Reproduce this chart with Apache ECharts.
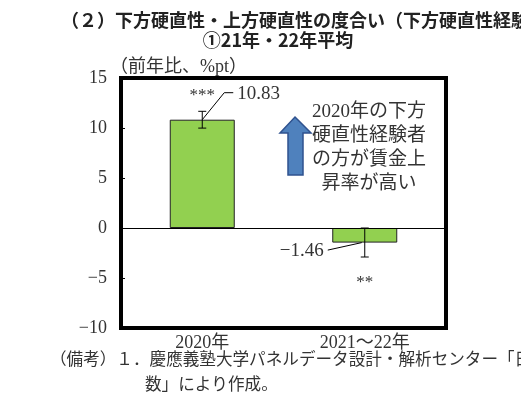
<!DOCTYPE html>
<html lang="ja">
<head>
    <meta charset="UTF-8">
    <title>下方硬直性・上方硬直性の度合い</title>
    <script src="https://cdn.jsdelivr.net/npm/echarts@6.0.0/dist/echarts.min.js"></script>
    <style>
        html, body { margin: 0; padding: 0; background: #fff; }
        #chart { width: 521px; height: 406px; }
    </style>
</head>
<body>
    <div id="chart"></div>
    <script>
        // データ
        const categories = ['2020年', '2021～22年'];
        const values = [10.83, -1.46];
        const errLow = [9.99, -2.9];
        const errHigh = [11.67, 0.0];
        const stars = ['***', '**'];
        const yMin = -10, yMax = 15, yStep = 5;

        const serif = "'Liberation Serif', 'Noto Sans CJK JP', serif";
        const cjk = "'Noto Sans CJK JP', sans-serif";
        const textColor = '#333';

        function fmtNum(v) {
            const s = String(Math.abs(v));
            return v < 0 ? '\u2212' + s : s;
        }

        const chart = echarts.init(document.getElementById('chart'));
        chart.setOption({
            animation: false,
            grid: {
                left: 121, right: 75, top: 78, bottom: 78,
                show: true, borderColor: '#000', borderWidth: 4
            },
            xAxis: {
                type: 'category',
                data: categories,
                axisLine: { show: false },
                axisTick: { show: false },
                axisLabel: { margin: 6, fontSize: 18, fontFamily: serif, color: textColor }
            },
            yAxis: {
                type: 'value',
                min: yMin, max: yMax, interval: yStep,
                splitLine: { show: false },
                axisLine: { show: false },
                axisTick: { show: true, inside: true, length: 4, lineStyle: { color: '#000', width: 1 } },
                axisLabel: { margin: 14, fontSize: 18, fontFamily: serif, color: textColor, formatter: fmtNum }
            },
            series: [
                {
                    type: 'bar',
                    data: values,
                    barWidth: 65,
                    itemStyle: { color: '#92D050', borderColor: '#222', borderWidth: 1 },
                    markLine: {
                        silent: true,
                        symbol: 'none',
                        label: { show: false },
                        lineStyle: { color: '#000', width: 1, type: 'solid' },
                        data: [{ yAxis: 0 }]
                    }
                },
                {
                    // 誤差棒
                    type: 'custom',
                    data: categories.map((c, i) => [i, errLow[i], errHigh[i]]),
                    renderItem: function (params, api) {
                        const lo = api.coord([api.value(0), api.value(1)]);
                        const hi = api.coord([api.value(0), api.value(2)]);
                        const hw = 4;
                        const st = { stroke: '#000', lineWidth: 1 };
                        return {
                            type: 'group',
                            children: [
                                { type: 'line', shape: { x1: lo[0], y1: lo[1], x2: hi[0], y2: hi[1] }, style: st },
                                { type: 'line', shape: { x1: lo[0] - hw, y1: lo[1], x2: lo[0] + hw, y2: lo[1] }, style: st },
                                { type: 'line', shape: { x1: hi[0] - hw, y1: hi[1], x2: hi[0] + hw, y2: hi[1] }, style: st }
                            ]
                        };
                    },
                    z: 3
                },
                {
                    // 数値ラベル・有意性
                    type: 'custom',
                    data: categories.map((c, i) => [i, values[i]]),
                    renderItem: function (params, api) {
                        const i = api.value(0);
                        const v = api.value(1);
                        const p = api.coord([i, v]);
                        const st = { stroke: '#000', lineWidth: 1 };
                        const font = { fontSize: 19, fontFamily: serif, fill: textColor };
                        if (v >= 0) {
                            return {
                                type: 'group',
                                children: [
                                    { type: 'polyline', shape: { points: [p, [p[0] + 22, p[1] - 27], [p[0] + 31, p[1] - 27]] }, style: Object.assign({ fill: null }, st) },
                                    { type: 'text', x: p[0] + 35, y: p[1] - 26, style: Object.assign({ text: fmtNum(v), align: 'left', verticalAlign: 'middle' }, font) },
                                    { type: 'text', x: p[0], y: p[1] - 24, style: Object.assign({ text: stars[i], align: 'center', verticalAlign: 'middle' }, font, { fontSize: 17 }) }
                                ]
                            };
                        }
                        return {
                            type: 'group',
                            children: [
                                { type: 'line', shape: { x1: p[0] - 3, y1: p[1], x2: p[0] - 37, y2: p[1] + 7.5 }, style: st },
                                { type: 'text', x: p[0] - 41, y: p[1] + 8, style: Object.assign({ text: fmtNum(v), align: 'right', verticalAlign: 'middle' }, font) },
                                { type: 'text', x: p[0], y: p[1] + 40, style: Object.assign({ text: stars[i], align: 'center', verticalAlign: 'middle' }, font, { fontSize: 17 }) }
                            ]
                        };
                    },
                    z: 4
                }
            ],
            graphic: [
                {
                    type: 'text', x: 61, y: 20,
                    style: { text: '（２）下方硬直性・上方硬直性の度合い（下方硬直性経験者', fontSize: 18, fontWeight: 'bold', fontFamily: cjk, fill: '#222', verticalAlign: 'middle' }
                },
                {
                    type: 'text', x: 278, y: 40,
                    style: { text: '①21年・22年平均', fontSize: 18, fontWeight: 'bold', fontFamily: cjk, fill: '#222', align: 'center', verticalAlign: 'middle' }
                },
                {
                    type: 'text', x: 110, y: 67,
                    style: { text: '（前年比、%pt）', fontSize: 18, fontFamily: serif, fill: textColor, verticalAlign: 'middle' }
                },
                {
                    // 矢印
                    type: 'polygon',
                    shape: { points: [[295, 117], [311, 133], [303, 133], [303, 175], [288, 175], [288, 133], [280, 133]] },
                    style: { fill: '#4F81BD', stroke: '#2F528F', lineWidth: 1.5 },
                    z: 10
                },
                {
                    type: 'text', x: 369, y: 100,
                    style: {
                        text: '2020年の下方\n硬直性経験者\nの方が賃金上\n昇率が高い',
                        fontSize: 19, lineHeight: 24, fontFamily: serif, fill: textColor,
                        align: 'center', verticalAlign: 'top'
                    },
                    z: 10
                },
                {
                    type: 'text', x: 50, y: 361,
                    style: { text: '（備考）１．慶應義塾大学パネルデータ設計・解析センター「日本家計パネル調査」', fontSize: 16.6, fontFamily: serif, fill: textColor, verticalAlign: 'middle' }
                },
                {
                    type: 'text', x: 145, y: 386,
                    style: { text: '数」により作成。', fontSize: 16.6, fontFamily: serif, fill: textColor, verticalAlign: 'middle' }
                }
            ]
        });
    </script>
</body>
</html>
